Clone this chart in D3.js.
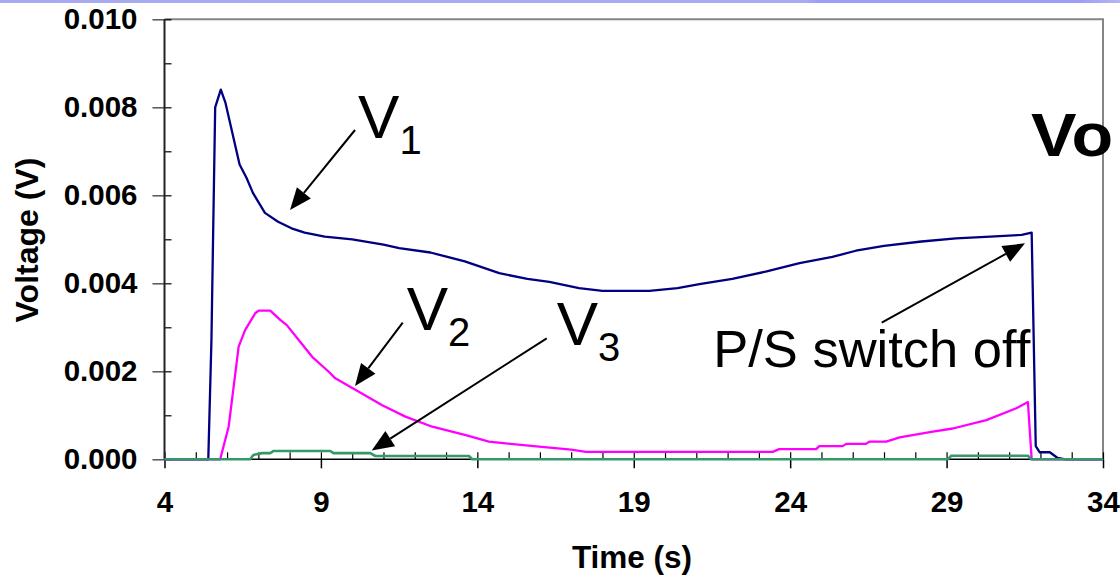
<!DOCTYPE html>
<html>
<head>
<meta charset="utf-8">
<script src="https://cdn.jsdelivr.net/npm/d3@7"></script>
<style>
  body { margin: 0; background: #fff; }
  svg { display: block; }
  text { font-family: "Liberation Sans", Arial, sans-serif; }
</style>
</head>
<body>
<svg id="chart" width="1120" height="578"></svg>
<script>
// Axis ticks
const xTicks = [4, 9, 14, 19, 24, 29, 34];
const yTicks = [0.000, 0.002, 0.004, 0.006, 0.008, 0.010];

// V1 probe voltage (s, V)
const v1Time = [4, 5.40, 5.50, 5.62, 5.80, 5.95, 6.40, 6.62, 6.83, 7.21, 7.63, 8.06, 8.48, 9.12, 10.0, 11.0, 11.5, 12.5, 13.6, 14.7, 15.6, 16.3, 17.25, 18.0, 19.5, 20.4, 21.1, 22.15, 23.25, 24.3, 25.35, 26.1, 27.0, 28.2, 29.3, 30.4, 31.4, 31.72, 31.85, 31.98, 32.3, 32.55, 32.8, 34];
const v1Volt = [0, 0, 0.0027, 0.0080, 0.0084, 0.0081, 0.0067, 0.0064, 0.00605, 0.0056, 0.0054, 0.00525, 0.00515, 0.00506, 0.0050, 0.00488, 0.0048, 0.0047, 0.0045, 0.00423, 0.0041, 0.00403, 0.00389, 0.00383, 0.00383, 0.00389, 0.00398, 0.0041, 0.00427, 0.00446, 0.0046, 0.00474, 0.00485, 0.00495, 0.00502, 0.00506, 0.0051, 0.00515, 0.0003, 0.00016, 0.00016, 0.00003, 0, 0];

// V2 probe voltage (s, V)
const v2Time = [4, 5.78, 6.05, 6.37, 6.58, 6.90, 7.01, 7.38, 7.70, 7.91, 8.29, 8.72, 9.25, 9.46, 10.10, 10.96, 11.70, 12.56, 13.63, 14.37, 14.91, 15.97, 17.0, 17.47, 23.44, 23.65, 24.83, 24.93, 25.68, 25.79, 26.42, 26.53, 27.07, 27.5, 28.56, 29.2, 30.27, 31.23, 31.6, 31.72, 34];
const v2Volt = [0, 0, 0.00074, 0.00256, 0.00294, 0.00332, 0.00338, 0.00338, 0.00317, 0.00305, 0.00271, 0.00233, 0.00199, 0.00184, 0.00158, 0.00123, 0.00097, 0.00074, 0.00055, 0.0004, 0.00036, 0.00029, 0.00022, 0.00017, 0.00017, 0.00023, 0.00023, 0.0003, 0.0003, 0.00035, 0.00035, 0.0004, 0.0004, 0.0005, 0.00063, 0.0007, 0.00089, 0.00116, 0.0013, 0, 0];

// V3 probe voltage (s, V)
const v3Time = [4, 6.74, 6.84, 7.12, 7.38, 7.49, 9.30, 9.40, 10.58, 10.74, 13.73, 13.84, 29.04, 29.15, 31.6, 31.71, 34];
const v3Volt = [0, 0, 0.0001, 0.00014, 0.00014, 0.00019, 0.00019, 0.00014, 0.00014, 0.000075, 0.000075, 0, 0, 0.00008, 0.00008, 0, 0];

// Callouts: label text, subscript, label anchor and arrow (tail -> tip), all in data units
const calloutText = ["V", "V", "V", "P/S switch off"];
const calloutSub = ["1", "2", "3", ""];
const calloutAt = [[10.186, 0.00730], [11.742, 0.002939], [16.537, 0.002598], [21.54, 0.0021045]];
const arrowTail = [[10.09, 0.007484], [11.615, 0.003105], [16.218, 0.00275], [26.927, 0.003105]];
const arrowTip = [[8.012, 0.005666], [10.09, 0.001666], [10.624, 0.0002], [31.507, 0.004909]];

const svg = d3.select("#chart");

// header strip
const defs = svg.append("defs");
const grad = defs.append("linearGradient").attr("id", "strip");
grad.append("stop").attr("offset", "0%").attr("stop-color", "#a8aaf0");
grad.append("stop").attr("offset", "72%").attr("stop-color", "#a9abf2");
grad.append("stop").attr("offset", "73%").attr("stop-color", "#9c9cfa");
grad.append("stop").attr("offset", "96%").attr("stop-color", "#9c9cfa");
grad.append("stop").attr("offset", "100%").attr("stop-color", "#b4b6f2");
svg.append("rect").attr("x", 0).attr("y", 0).attr("width", 1120).attr("height", 3).attr("fill", "url(#strip)");

const x = d3.scaleLinear().domain([4, 34]).range([164.5, 1103]);
const y = d3.scaleLinear().domain([0, 0.010]).range([459.3, 19.3]);

// plot frame (top and right)
svg.append("path")
  .attr("d", `M${x(4)},${y(0.010)}H${x(34)}V${y(0)}`)
  .attr("fill", "none").attr("stroke", "#858585").attr("stroke-width", 2);

const tickFont = g => g.selectAll("text")
  .attr("font-size", 29.5).attr("font-weight", "bold").attr("fill", "#000")
  .style("font-family", "'Liberation Sans', Arial, sans-serif");

// x axis: major ticks outward with labels, minor ticks inward every second
const gx = svg.append("g").attr("transform", `translate(0,${y(0)})`)
  .call(d3.axisBottom(x).tickValues(xTicks).tickSize(9).tickPadding(23).tickFormat(d3.format("d")));
gx.select(".domain").remove();
gx.selectAll("line").attr("stroke", "#000").attr("stroke-width", 1.5);
tickFont(gx);

const gxm = svg.append("g").attr("transform", `translate(0,${y(0)})`)
  .call(d3.axisTop(x).tickValues(d3.range(4, 35, 1)).tickSize(7).tickFormat(""));
gxm.select(".domain").remove();
gxm.selectAll("line").attr("stroke", "#000").attr("stroke-width", 1.2);

// y axis: major ticks outward with labels, minor ticks inward every 0.001 V
const gy = svg.append("g").attr("transform", `translate(${x(4)},0)`)
  .call(d3.axisLeft(y).tickValues(yTicks).tickSize(12).tickPadding(15).tickFormat(d3.format(".3f")));
gy.select(".domain").remove();
gy.selectAll("line").attr("stroke", "#555").attr("stroke-width", 1.5);
tickFont(gy);

const gym = svg.append("g").attr("transform", `translate(${x(4)},0)`)
  .call(d3.axisRight(y).tickValues(d3.range(0, 11).map(i => i * 0.001)).tickSize(7).tickFormat(""));
gym.select(".domain").remove();
gym.selectAll("line").attr("stroke", "#000").attr("stroke-width", 1.2);

// axis lines
svg.append("line").attr("x1", x(4)).attr("x2", x(4)).attr("y1", y(0.010)).attr("y2", y(0))
  .attr("stroke", "#222").attr("stroke-width", 2);
svg.append("line").attr("x1", x(4)).attr("x2", x(34)).attr("y1", y(0)).attr("y2", y(0))
  .attr("stroke", "#000").attr("stroke-width", 1.5);

// axis titles
svg.append("text")
  .attr("transform", `translate(38,240) rotate(-90)`)
  .attr("text-anchor", "middle").attr("font-size", 32).attr("font-weight", "bold")
  .text("Voltage (V)");
svg.append("text")
  .attr("x", 632).attr("y", 568).attr("text-anchor", "middle")
  .attr("font-size", 31.5).attr("font-weight", "bold")
  .text("Time (s)");

// series
const line = d3.line().x(d => x(d[0])).y(d => y(d[1]));
const series = [
  { t: v1Time, v: v1Volt, color: "#000080", w: 2.3 },
  { t: v2Time, v: v2Volt, color: "#ff00ff", w: 2.3 },
  { t: v3Time, v: v3Volt, color: "#339966", w: 2.6 }
];
series.forEach(s => {
  svg.append("path")
    .datum(d3.zip(s.t, s.v))
    .attr("d", line)
    .attr("fill", "none").attr("stroke", s.color)
    .attr("stroke-width", s.w).attr("stroke-linejoin", "round");
});

// callouts
const headLen = 22, headHalf = 9;
calloutText.forEach((txt, i) => {
  const [tx, ty] = [x(arrowTail[i][0]), y(arrowTail[i][1])];
  const [hx, hy] = [x(arrowTip[i][0]), y(arrowTip[i][1])];
  const ang = Math.atan2(hy - ty, hx - tx);
  const bx = hx - headLen * Math.cos(ang), by = hy - headLen * Math.sin(ang);
  svg.append("line").attr("x1", tx).attr("y1", ty).attr("x2", bx).attr("y2", by)
    .attr("stroke", "#000").attr("stroke-width", 2);
  const px = -Math.sin(ang) * headHalf, py = Math.cos(ang) * headHalf;
  svg.append("path")
    .attr("d", `M${hx},${hy}L${bx + px},${by + py}L${bx - px},${by - py}Z`)
    .attr("fill", "#000");

  const label = svg.append("text")
    .attr("x", x(calloutAt[i][0])).attr("y", y(calloutAt[i][1]))
    .attr("fill", "#000");
  if (calloutSub[i]) {
    label.append("tspan").attr("font-size", 62).text(txt);
    label.append("tspan").attr("font-size", 40).attr("dy", 16).text(calloutSub[i]);
  } else {
    label.attr("font-size", 52.5).text(txt);
  }
});

// slide heading running off the right edge
svg.append("text")
  .attr("transform", "translate(1031,156) scale(1.1,1)")
  .attr("font-size", 62).attr("font-weight", "bold").attr("fill", "#000")
  .text("Vo");
</script>
</body>
</html>
